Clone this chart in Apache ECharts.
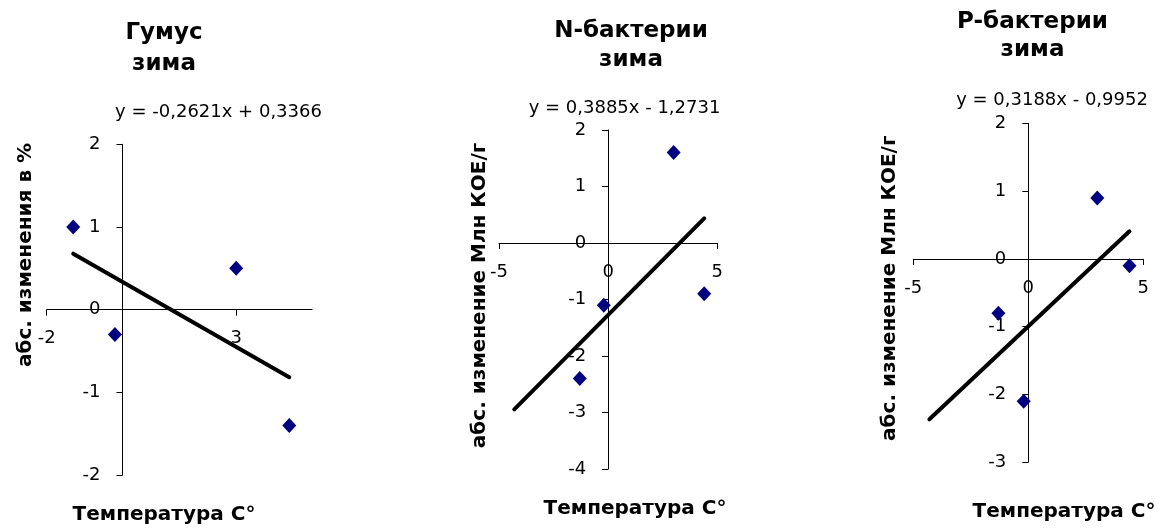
<!DOCTYPE html>
<html><head><meta charset="utf-8">
<script src="https://cdn.jsdelivr.net/npm/echarts@6/dist/echarts.min.js"></script>
<style>html,body{margin:0;padding:0;background:#fff}#c{width:1155px;height:528px}</style>
</head><body><div id="c"></div>
<script>
// ---- data ----
const temperature = [-1.3, -0.2, 3, 4.4];
const humusChange = [1, -0.3, 0.5, -1.4];
const nBacteriaChange = [-2.4, -1.1, 1.6, -0.9];
const pBacteriaChange = [-0.8, -2.1, 0.9, -0.1];
const seriesValues = [humusChange, nBacteriaChange, pBacteriaChange];

const titleLines = [['Гумус', 'зима'], ['N-бактерии', 'зима'], ['P-бактерии', 'зима']];
const equations = ['y = -0,2621x + 0,3366', 'y = 0,3885x - 1,2731', 'y = 0,3188x - 0,9952'];
const trendSlope = [-0.2621, 0.3885, 0.3188];
const trendIntercept = [0.3366, -1.2731, -0.9952];
const trendXRange = [[-1.3, 4.4], [-4.3, 4.4], [-4.3, 4.4]];
const yTitles = ['абс. изменения в %', 'абс. изменение Млн КОЕ/г', 'абс. изменение Млн КОЕ/г'];
const xTitle = 'Температура C°';
const xRange = [[-2, 5], [-5, 5], [-5, 5]];
const xTickValues = [[-2, 3], [-5, 0, 5], [-5, 0, 5]];
const yRange = [[-2, 2], [-4, 2], [-3, 2]];

// ---- layout ----
const FONT = "'DejaVu Sans', sans-serif";
const grids = [
  {left: 46.7, top: 144.3, width: 265.3, height: 330.7},
  {left: 499, top: 130, width: 218.3, height: 339},
  {left: 913.3, top: 123.3, width: 230, height: 339}
];
const titlePos = [[164, 33.5, 63.7], [631, 31.3, 60.3], [1032.5, 22, 50.3]];
const eqPos = [[218.5, 112.8], [624.5, 108.3], [1052, 100.8]];
const yTitlePos = [[26, 255], [480, 295.5], [890, 288.3]];
const xTitlePos = [[164, 515], [635, 508.5], [1064, 512]];

const chart = echarts.init(document.getElementById('c'), null, {renderer: 'canvas'});

const textStyle = (font) => ({font: font, fill: '#000', align: 'center', verticalAlign: 'middle', textAlign: 'center', textVerticalAlign: 'middle'});

const gridOpts = [], xAxes = [], yAxes = [], series = [], graphics = [];
for (let i = 0; i < 3; i++) {
  const g = grids[i];
  gridOpts.push(Object.assign({containLabel: false, outerBoundsMode: 'none'}, g));
  // place each axis where the other axis is zero (axes cross at 0)
  const xAxisOffset = -g.height * (0 - yRange[i][0]) / (yRange[i][1] - yRange[i][0]);
  const yAxisOffset = -g.width * (0 - xRange[i][0]) / (xRange[i][1] - xRange[i][0]);
  xAxes.push({
    type: 'value', gridIndex: i, min: xRange[i][0], max: xRange[i][1],
    position: 'bottom', offset: xAxisOffset,
    axisLine: {show: true, onZero: false, lineStyle: {color: '#000', width: 1}},
    axisTick: {show: true, length: 6, lineStyle: {color: '#000'}, customValues: xTickValues[i]},
    axisLabel: {customValues: xTickValues[i], margin: 20, fontSize: 18, color: '#000', fontFamily: FONT},
    splitLine: {show: false}
  });
  yAxes.push({
    type: 'value', gridIndex: i, min: yRange[i][0], max: yRange[i][1], interval: 1,
    position: 'left', offset: yAxisOffset,
    axisLine: {show: true, onZero: false, lineStyle: {color: '#000', width: 1}},
    axisTick: {show: true, length: 6, lineStyle: {color: '#000'}},
    axisLabel: {margin: 22, fontSize: 18, color: '#000', fontFamily: FONT},
    splitLine: {show: false}
  });
  series.push({
    type: 'scatter', xAxisIndex: i, yAxisIndex: i,
    data: temperature.map((t, k) => [t, seriesValues[i][k]]),
    symbol: 'diamond', symbolSize: [14, 15],
    itemStyle: {color: '#000080', opacity: 1}, z: 3
  });
  series.push({
    type: 'line', xAxisIndex: i, yAxisIndex: i,
    data: trendXRange[i].map(x => [x, trendSlope[i] * x + trendIntercept[i]]),
    showSymbol: false, symbol: 'none', silent: true,
    lineStyle: {color: '#000', width: 4, cap: 'round'}, z: 4
  });
  graphics.push({type: 'text', x: titlePos[i][0], y: titlePos[i][1],
    style: Object.assign({text: titleLines[i][0]}, textStyle('bold 23px ' + FONT))});
  graphics.push({type: 'text', x: titlePos[i][0], y: titlePos[i][2],
    style: Object.assign({text: titleLines[i][1]}, textStyle('bold 23px ' + FONT))});
  graphics.push({type: 'text', x: eqPos[i][0], y: eqPos[i][1],
    style: Object.assign({text: equations[i]}, textStyle('18px ' + FONT))});
  graphics.push({type: 'text', x: yTitlePos[i][0], y: yTitlePos[i][1], rotation: Math.PI / 2,
    style: Object.assign({text: yTitles[i]}, textStyle('bold 20px ' + FONT))});
  graphics.push({type: 'text', x: xTitlePos[i][0], y: xTitlePos[i][1],
    style: Object.assign({text: xTitle}, textStyle('bold 20px ' + FONT))});
}

chart.setOption({
  animation: false,
  backgroundColor: '#fff',
  grid: gridOpts,
  xAxis: xAxes,
  yAxis: yAxes,
  series: series,
  graphic: graphics
});
</script>
</body></html>
